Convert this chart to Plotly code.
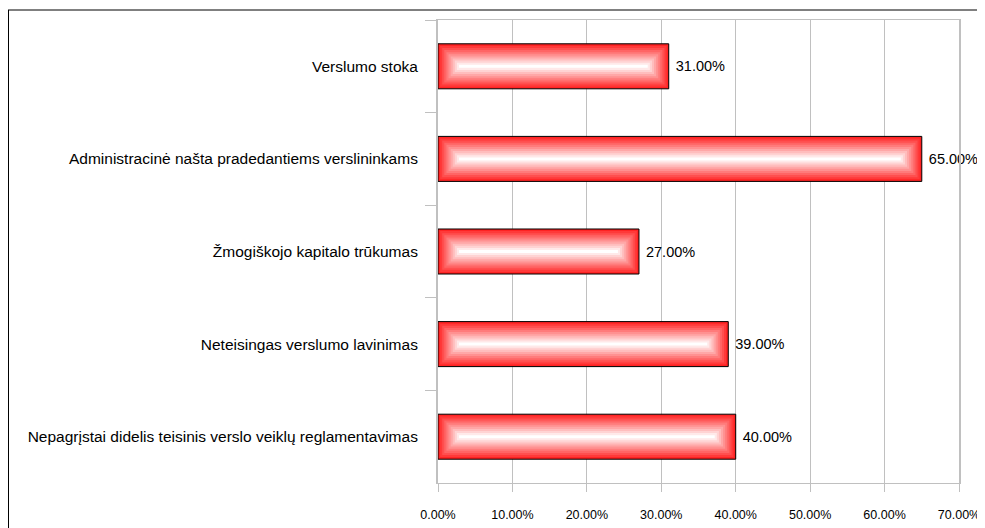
import plotly.graph_objects as go

categories = [
    "Verslumo stoka",
    "Administracinė našta pradedantiems verslininkams",
    "Žmogiškojo kapitalo trūkumas",
    "Neteisingas verslumo lavinimas",
    "Nepagrįstai didelis teisinis verslo veiklų reglamentavimas",
]
values = [0.31, 0.65, 0.27, 0.39, 0.40]
x_ticks = [0.0, 0.1, 0.2, 0.3, 0.4, 0.5, 0.6, 0.7]

W, H = 985, 528
OFF = 8  # page body margin
L, T = 438 - OFF, 20 - OFF
pw, ph = 521, 463
R = W - L - pw
B = H - T - ph
xmax = 0.7
px_per_x = pw / xmax
px_per_cat = ph / len(categories)

bar_w = 0.486
N = 11
step = 2.1
edge = (255, 35, 35)

fig = go.Figure()
for k in range(N):
    ins = k * step
    dx = ins / px_per_x
    dy = ins / px_per_cat
    t = (k / (N - 1)) ** 1.0
    c = tuple(int(round(e + (255 - e) * t)) for e in edge)
    outer = k == 0
    fig.add_trace(go.Bar(
        y=categories,
        x=[max(v - 2 * dx, 0) for v in values],
        base=[dx] * len(values),
        width=bar_w - 2 * dy,
        orientation="h",
        marker=dict(color="rgb(%d,%d,%d)" % c,
                    line=dict(color="black", width=1 if outer else 0)),
        text=["\u00a0" + f"{v*100:.2f}%" for v in values] if outer else None,
        textposition="outside" if outer else "none",
        textfont=dict(family="Liberation Sans, Arial", size=14.5, color="black"),
        cliponaxis=False,
        hoverinfo="skip",
        showlegend=False,
    ))

fig.update_layout(
    width=W, height=H,
    margin=dict(l=L, r=R, t=T, b=B, autoexpand=False),
    barmode="overlay",
    plot_bgcolor="white", paper_bgcolor="white",
    font=dict(family="Liberation Sans, Arial", size=12, color="black"),
    xaxis=dict(
        range=[0, xmax], tickvals=x_ticks, tickformat=".2%",
        showgrid=True, gridcolor="#c0c0c0", gridwidth=1,
        showline=True, linecolor="#c0c0c0", linewidth=1, mirror=True,
        ticks="outside", ticklen=8, tickcolor="#c0c0c0",
        ticklabelstandoff=12, tickfont=dict(size=12.5),
        zeroline=False,
    ),
    yaxis=dict(
        categoryorder="array", categoryarray=categories, autorange="reversed",
        showgrid=False,
        showline=True, linecolor="#c0c0c0", linewidth=2, mirror=True,
        ticks="outside", ticklen=11, tickcolor="#c0c0c0", tickson="boundaries",
        ticklabelstandoff=15, tickfont=dict(size=15.5),
    ),
    shapes=[
        dict(type="line", xref="paper", yref="paper",
             x0=(5 - OFF - L) / pw, x1=(W - L) / pw,
             y0=1 + (T - (10 - OFF)) / ph, y1=1 + (T - (10 - OFF)) / ph,
             line=dict(color="black", width=1)),
        dict(type="line", xref="paper", yref="paper",
             x0=(8.5 - OFF - L) / pw, x1=(8.5 - OFF - L) / pw,
             y0=1 + (T - (10 - OFF)) / ph, y1=-B / ph,
             line=dict(color="black", width=1)),
    ],
)

fig.write_html("out.html")
